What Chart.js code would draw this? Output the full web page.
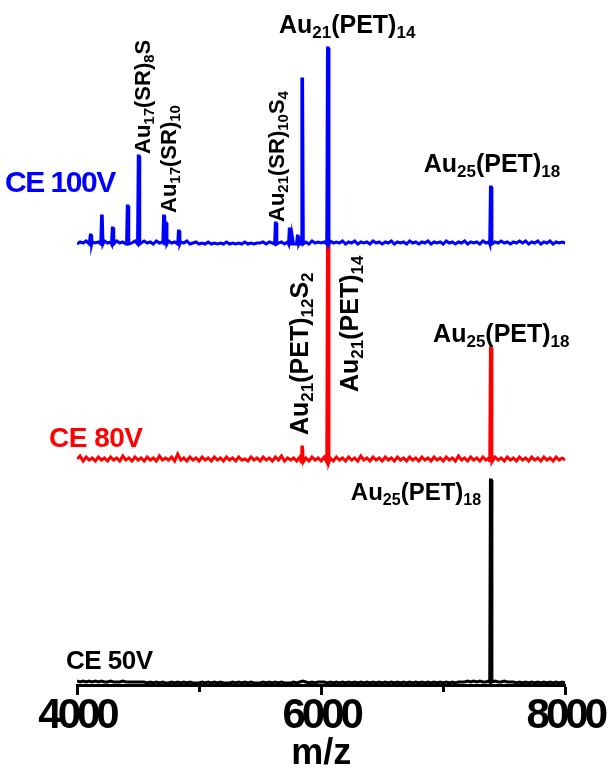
<!DOCTYPE html>
<html>
<head>
<meta charset="utf-8">
<script src="https://cdn.jsdelivr.net/npm/chart.js@4/dist/chart.umd.min.js"></script>
<style>
  html, body { margin: 0; padding: 0; background: #fff; }
  canvas { display: block; }
</style>
</head>
<body>
<canvas id="ms" width="608" height="771"></canvas>
<script>
// m/z axis
const mzMin = 4000;
const mzMax = 8000;
const tickValues = [4000, 5000, 6000, 7000, 8000];
const tickText = ['4000', '', '6000', '', '8000'];

// spectra recorded at three collision energies
const seriesNames = ['CE 100V', 'CE 80V', 'CE 50V'];

// baseline noise, one sample every 25 m/z starting at 4000 (a.u.)
const noiseStep = 25;
const blueNoise = [
  1,3,2,4,1,3,2,3,1,4, 2,3,1,4,2,3,1,3,2,4, 3,2,4,2,3,1,4,2,3,2, 4,2,3,1,3,2,4,1,2,3,
  1,2,1,3,1,2,1,2,1,3, 1,2,1,2,1,3,1,2,1,2, 2,3,1,3,2,4,2,3,1,3, 2,4,1,3,2,3,1,4,2,3,
  2,3,1,4,2,3,2,4,1,3, 2,4,1,3,2,3,1,4,2,3, 1,3,2,4,1,3,2,3,1,4, 2,3,1,3,2,4,1,3,2,3,
  1,4,2,3,1,3,2,4,1,3, 2,3,1,4,2,3,1,3,2,4, 2,3,1,3,2,4,2,4,1,3, 2,4,1,3,2,4,1,3,2,3,
  2];
const redNoise = [
  4,7,2,6,3,5,2,6,3,5, 2,6,3,5,2,7,3,5,2,6, 3,5,2,6,3,5,2,7,3,5, 3,6,2,9,3,5,2,6,3,5,
  2,6,3,5,2,6,3,5,2,6, 3,5,2,6,3,4,2,6,3,5, 2,6,3,5,2,6,3,7,2,5, 3,5,2,6,3,5,2,6,3,5,
  2,6,3,5,2,6,3,5,2,6, 3,5,2,7,3,5,2,6,3,5, 2,6,3,5,2,6,3,5,2,6, 3,5,2,6,3,5,2,6,3,5,
  2,6,3,5,2,7,3,5,2,6, 3,5,2,6,3,5,2,6,3,5, 2,6,3,5,2,6,3,5,2,6, 3,5,2,6,3,5,2,6,3,5,
  3];
const blackNoise = [
  2,1,2,1,2,1,2,1,2,1, 1,2,1,1,1,2,1,1,1,1, 1,1,1,0,1,0,1,0,1,0, 0,1,0,1,0,1,0,1,0,0,
  0,1,0,1,0,1,0,1,0,0, 0,1,0,1,0,1,0,1,0,0, 0,1,0,1,0,1,0,1,0,0, 0,1,0,1,2,1,0,1,0,1,
  1,1,0,1,0,1,0,1,0,1, 0,1,0,1,0,1,0,1,0,1, 0,1,0,1,0,1,0,1,0,1, 0,1,0,1,0,1,0,1,0,1,
  0,1,0,1,0,1,1,1,2,1, 2,1,2,1,1,2,1,2,1,1, 2,1,1,1,0,1,0,1,0,1, 0,1,0,1,0,1,0,1,0,1,
  0];

// peak positions (m/z) and heights above baseline (a.u.)
const bluePeakMz  = [4112, 4204, 4292, 4415, 4505, 4712, 4728, 4834, 5628, 5742, 5765, 5808, 5845, 6055, 7390];
const bluePeakInt = [  10,   29,   17,   39,   89,   29,   22,   14,   22,   16,   10,    9,  166,  197,   58];
const redPeakMz   = [5845, 6055, 7390];
const redPeakInt  = [  16,  220,  115];
const blackPeakMz  = [7390];
const blackPeakInt = [ 203];

// vertical offsets used to stack the three spectra
const traceOffsets = [440, 222, 2];
const traceColors = ['#0000ff', '#ff0000', '#000000'];

const FONT = "'Liberation Sans', Arial, Helvetica, sans-serif";

function buildTrace(noise, peakMz, peakInt, offset) {
  const pts = [];
  noise.forEach((n, i) => {
    const mz = mzMin + i * noiseStep;
    if (peakMz.some(p => Math.abs(p - mz) < 11)) return;
    pts.push({ x: mz, y: offset + n });
  });
  peakMz.forEach((p, i) => {
    const top = offset + peakInt[i];
    pts.push({ x: p - 9, y: offset + 1 }, { x: p - 3, y: top },
             { x: p + 3, y: top }, { x: p + 9, y: offset + 1 });
  });
  return pts.sort((a, b) => a.x - b.x);
}

const traces = [
  buildTrace(blueNoise, bluePeakMz, bluePeakInt, traceOffsets[0]),
  buildTrace(redNoise, redPeakMz, redPeakInt, traceOffsets[1]),
  buildTrace(blackNoise, blackPeakMz, blackPeakInt, traceOffsets[2])
];

// text placed on the plot: anchor in (m/z, a.u.)
const annotations = [
  { text: 'CE 100V', mz: 3411, y: 493, size: 30, color: traceColors[0], align: 'left', spacing: -1.5 },
  { text: 'CE 80V',  mz: 3771, y: 238, size: 28, color: traceColors[1], align: 'left', spacing: -0.5 },
  { text: 'CE 50V',  mz: 3910, y: 16,  size: 26, color: traceColors[2], align: 'left', spacing: -0.5 },
  { text: 'Au_{21}(PET)_{14}', mz: 6213, y: 652, size: 25, align: 'center' },
  { text: 'Au_{25}(PET)_{18}', mz: 7399, y: 513, size: 25, align: 'center' },
  { text: 'Au_{17}(SR)_{8}S', mz: 4597, y: 531, size: 22, rotate: true },
  { text: 'Au_{17}(SR)_{10}', mz: 4810, y: 472, size: 22, rotate: true },
  { text: 'Au_{21}(SR)_{10}S_{4}', mz: 5693, y: 463, size: 22, rotate: true },
  { text: 'Au_{21}(PET)_{12}S_{2}', mz: 5890, y: 250, size: 25, rotate: true },
  { text: 'Au_{21}(PET)_{14}', mz: 6300, y: 293, size: 25, rotate: true },
  { text: 'Au_{25}(PET)_{18}', mz: 7476, y: 343, size: 25, align: 'center' },
  { text: 'Au_{25}(PET)_{18}', mz: 6777, y: 185, size: 24, align: 'center' }
];

function parseRich(str) {
  return str.split(/(_\{[^}]*\})/).filter(s => s.length).map(s =>
    s.startsWith('_{') ? { t: s.slice(2, -1), sub: true } : { t: s, sub: false });
}

function drawRich(ctx, a, px, py) {
  const parts = parseRich(a.text);
  const main = `bold ${a.size}px ${FONT}`;
  const small = `bold ${Math.round(a.size * 0.68)}px ${FONT}`;
  ctx.save();
  ctx.letterSpacing = (a.spacing || 0) + 'px';
  ctx.fillStyle = a.color || '#000';
  ctx.textBaseline = 'alphabetic';
  ctx.textAlign = 'left';
  let total = 0;
  parts.forEach(p => { ctx.font = p.sub ? small : main; total += ctx.measureText(p.t).width; });
  ctx.translate(px, py);
  if (a.rotate) ctx.rotate(-Math.PI / 2);
  let x = a.align === 'center' ? -total / 2 : 0;
  parts.forEach(p => {
    ctx.font = p.sub ? small : main;
    ctx.fillText(p.t, x, p.sub ? a.size * 0.2 : 0);
    x += ctx.measureText(p.t).width;
  });
  ctx.restore();
}

const decorations = {
  id: 'decorations',
  beforeDraw(chart) { chart.ctx.letterSpacing = '0px'; },
  afterDatasetsDraw(chart) {
    // tick numbers are set tight
    chart.ctx.letterSpacing = '-4px';
  },
  afterDraw(chart) {
    const ctx = chart.ctx;
    ctx.letterSpacing = '0px';
    const xs = chart.scales.x, ys = chart.scales.y;
    // short minor ticks
    ctx.save();
    ctx.strokeStyle = '#000';
    ctx.lineWidth = 3;
    tickValues.forEach((v, i) => {
      if (tickText[i]) return;
      const px = Math.round(xs.getPixelForValue(v)) + 0.5;
      ctx.beginPath();
      ctx.moveTo(px, chart.chartArea.bottom);
      ctx.lineTo(px, chart.chartArea.bottom + 7);
      ctx.stroke();
    });
    ctx.restore();
    annotations.forEach(a => drawRich(ctx, a, xs.getPixelForValue(a.mz), ys.getPixelForValue(a.y)));
  }
};

new Chart(document.getElementById('ms'), {
  type: 'scatter',
  data: {
    datasets: traces.map((pts, i) => ({
      label: seriesNames[i],
      data: pts,
      showLine: true,
      borderColor: traceColors[i],
      backgroundColor: traceColors[i],
      borderWidth: 3,
      pointRadius: 0,
      tension: 0,
      borderJoinStyle: 'miter'
    }))
  },
  options: {
    responsive: false,
    animation: false,
    devicePixelRatio: 1,
    layout: { padding: { left: 77, right: 42, top: 10, bottom: 0 } },
    plugins: { legend: { display: false }, tooltip: { enabled: false } },
    scales: {
      x: {
        type: 'linear',
        min: mzMin,
        max: mzMax,
        afterFit(scale) { scale.height = 86; },
        afterBuildTicks(scale) { scale.ticks = tickValues.map(v => ({ value: v })); },
        ticks: {
          autoSkip: false,
          maxRotation: 0,
          padding: -4,
          z: 1,
          color: '#000',
          font: { family: FONT, size: 42, weight: 'bold' },
          callback: (v) => { const i = tickValues.indexOf(v); return i >= 0 ? tickText[i] : ''; }
        },
        grid: {
          drawOnChartArea: false,
          drawTicks: true,
          tickLength: 10,
          tickWidth: 3,
          tickColor: (c) => (c.tick && tickText[tickValues.indexOf(c.tick.value)]) ? '#000' : 'rgba(0,0,0,0)'
        },
        border: { display: true, width: 3, color: '#000' },
        title: {
          display: true,
          text: 'm/z',
          color: '#000',
          font: { family: FONT, size: 36, weight: 'bold' },
          padding: { top: 0, bottom: -5 }
        }
      },
      y: { display: false, min: 0, max: 675 }
    }
  },
  plugins: [decorations]
});
</script>
</body>
</html>
